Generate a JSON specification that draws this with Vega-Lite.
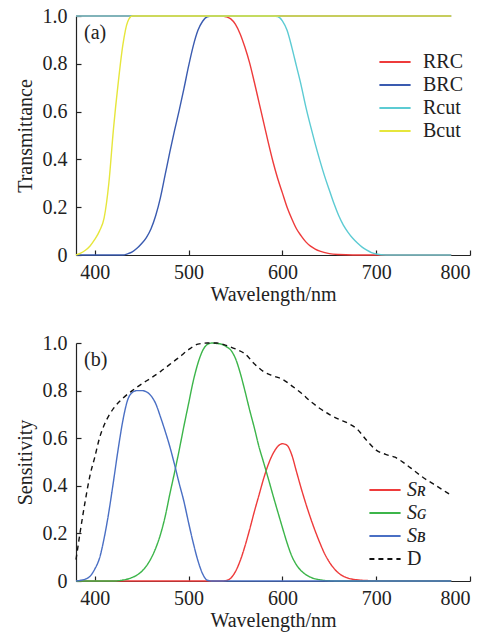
{
  "$schema": "https://vega.github.io/schema/vega-lite/v6.json",
  "padding": {"left": 15, "top": 6, "right": 2, "bottom": 4},
  "spacing": 29,
  "resolve": {"scale": {"color": "independent", "strokeDash": "independent"}, "legend": {"color": "independent", "strokeDash": "independent"}},
  "config": {
    "font": "Liberation Serif",
    "view": {"stroke": null},
    "axis": {
      "grid": false, "domainColor": "#222", "tickColor": "#222", "labelColor": "#222", "titleColor": "#222",
      "labelFont": "Liberation Serif", "titleFont": "Liberation Serif", "labelFontSize": 20, "titleFontSize": 20,
      "titleFontWeight": "normal", "tickSize": -5, "domainWidth": 1.2, "tickWidth": 1.2
    },
    "axisX": {"labelPadding": 12, "titlePadding": 2},
    "axisY": {"labelPadding": 14, "titlePadding": 7},
    "legend": {
      "labelFont": "Liberation Serif", "labelFontSize": 20, "labelColor": "#222",
      "symbolType": "M-1.3,0H1.3", "symbolSize": 576, "symbolStrokeWidth": 2,
      "rowPadding": 0, "padding": 0
    }
  },
  "datasets": {
    "a": [
      {"wl": 380, "v": 1, "s": "RRC"}, {"wl": 535, "v": 1, "s": "RRC"}, {"wl": 540, "v": 0.997, "s": "RRC"},
      {"wl": 545, "v": 0.988, "s": "RRC"}, {"wl": 550, "v": 0.965, "s": "RRC"}, {"wl": 555, "v": 0.925, "s": "RRC"},
      {"wl": 560, "v": 0.87, "s": "RRC"}, {"wl": 565, "v": 0.805, "s": "RRC"}, {"wl": 570, "v": 0.725, "s": "RRC"},
      {"wl": 575, "v": 0.64, "s": "RRC"}, {"wl": 580, "v": 0.555, "s": "RRC"}, {"wl": 585, "v": 0.47, "s": "RRC"},
      {"wl": 590, "v": 0.39, "s": "RRC"}, {"wl": 595, "v": 0.32, "s": "RRC"}, {"wl": 600, "v": 0.26, "s": "RRC"},
      {"wl": 605, "v": 0.2, "s": "RRC"}, {"wl": 610, "v": 0.152, "s": "RRC"}, {"wl": 615, "v": 0.11, "s": "RRC"},
      {"wl": 620, "v": 0.08, "s": "RRC"}, {"wl": 625, "v": 0.055, "s": "RRC"}, {"wl": 630, "v": 0.037, "s": "RRC"},
      {"wl": 635, "v": 0.025, "s": "RRC"}, {"wl": 640, "v": 0.016, "s": "RRC"}, {"wl": 650, "v": 0.006, "s": "RRC"},
      {"wl": 660, "v": 0.002, "s": "RRC"}, {"wl": 675, "v": 0, "s": "RRC"}, {"wl": 780, "v": 0, "s": "RRC"},

      {"wl": 380, "v": 0, "s": "BRC"}, {"wl": 430, "v": 0, "s": "BRC"}, {"wl": 435, "v": 0.005, "s": "BRC"},
      {"wl": 440, "v": 0.013, "s": "BRC"}, {"wl": 445, "v": 0.028, "s": "BRC"}, {"wl": 450, "v": 0.048, "s": "BRC"},
      {"wl": 455, "v": 0.073, "s": "BRC"}, {"wl": 460, "v": 0.11, "s": "BRC"}, {"wl": 465, "v": 0.165, "s": "BRC"},
      {"wl": 470, "v": 0.24, "s": "BRC"}, {"wl": 475, "v": 0.335, "s": "BRC"}, {"wl": 480, "v": 0.43, "s": "BRC"},
      {"wl": 485, "v": 0.52, "s": "BRC"}, {"wl": 490, "v": 0.605, "s": "BRC"}, {"wl": 495, "v": 0.695, "s": "BRC"},
      {"wl": 500, "v": 0.79, "s": "BRC"}, {"wl": 505, "v": 0.875, "s": "BRC"}, {"wl": 510, "v": 0.94, "s": "BRC"},
      {"wl": 515, "v": 0.978, "s": "BRC"}, {"wl": 520, "v": 0.997, "s": "BRC"}, {"wl": 525, "v": 1, "s": "BRC"},
      {"wl": 780, "v": 1, "s": "BRC"},

      {"wl": 380, "v": 1, "s": "Rcut"}, {"wl": 590, "v": 1, "s": "Rcut"}, {"wl": 595, "v": 0.998, "s": "Rcut"},
      {"wl": 600, "v": 0.98, "s": "Rcut"}, {"wl": 605, "v": 0.94, "s": "Rcut"}, {"wl": 610, "v": 0.87, "s": "Rcut"},
      {"wl": 615, "v": 0.79, "s": "Rcut"}, {"wl": 620, "v": 0.71, "s": "Rcut"}, {"wl": 625, "v": 0.62, "s": "Rcut"},
      {"wl": 630, "v": 0.54, "s": "Rcut"}, {"wl": 635, "v": 0.465, "s": "Rcut"}, {"wl": 640, "v": 0.395, "s": "Rcut"},
      {"wl": 645, "v": 0.33, "s": "Rcut"}, {"wl": 650, "v": 0.272, "s": "Rcut"}, {"wl": 655, "v": 0.215, "s": "Rcut"},
      {"wl": 660, "v": 0.165, "s": "Rcut"}, {"wl": 665, "v": 0.125, "s": "Rcut"}, {"wl": 670, "v": 0.095, "s": "Rcut"},
      {"wl": 675, "v": 0.07, "s": "Rcut"}, {"wl": 680, "v": 0.05, "s": "Rcut"}, {"wl": 685, "v": 0.033, "s": "Rcut"},
      {"wl": 690, "v": 0.02, "s": "Rcut"}, {"wl": 695, "v": 0.01, "s": "Rcut"}, {"wl": 700, "v": 0.004, "s": "Rcut"},
      {"wl": 710, "v": 0, "s": "Rcut"}, {"wl": 780, "v": 0, "s": "Rcut"},

      {"wl": 380, "v": 0, "s": "Bcut"}, {"wl": 385, "v": 0.008, "s": "Bcut"}, {"wl": 390, "v": 0.02, "s": "Bcut"},
      {"wl": 395, "v": 0.038, "s": "Bcut"}, {"wl": 400, "v": 0.065, "s": "Bcut"}, {"wl": 405, "v": 0.1, "s": "Bcut"},
      {"wl": 410, "v": 0.155, "s": "Bcut"}, {"wl": 415, "v": 0.3, "s": "Bcut"}, {"wl": 420, "v": 0.53, "s": "Bcut"},
      {"wl": 425, "v": 0.72, "s": "Bcut"}, {"wl": 430, "v": 0.88, "s": "Bcut"}, {"wl": 435, "v": 0.975, "s": "Bcut"},
      {"wl": 440, "v": 1, "s": "Bcut"}, {"wl": 780, "v": 1, "s": "Bcut"}
    ],
    "b": [
      {"wl": 380, "v": 0, "s": "S_R"}, {"wl": 535, "v": 0, "s": "S_R"}, {"wl": 540, "v": 0.002, "s": "S_R"},
      {"wl": 545, "v": 0.012, "s": "S_R"}, {"wl": 550, "v": 0.04, "s": "S_R"}, {"wl": 555, "v": 0.085, "s": "S_R"},
      {"wl": 560, "v": 0.145, "s": "S_R"}, {"wl": 565, "v": 0.215, "s": "S_R"}, {"wl": 570, "v": 0.29, "s": "S_R"},
      {"wl": 575, "v": 0.36, "s": "S_R"}, {"wl": 580, "v": 0.43, "s": "S_R"}, {"wl": 585, "v": 0.49, "s": "S_R"},
      {"wl": 590, "v": 0.535, "s": "S_R"}, {"wl": 595, "v": 0.565, "s": "S_R"}, {"wl": 600, "v": 0.577, "s": "S_R"},
      {"wl": 605, "v": 0.57, "s": "S_R"}, {"wl": 610, "v": 0.53, "s": "S_R"}, {"wl": 615, "v": 0.46, "s": "S_R"},
      {"wl": 620, "v": 0.39, "s": "S_R"}, {"wl": 625, "v": 0.325, "s": "S_R"}, {"wl": 630, "v": 0.265, "s": "S_R"},
      {"wl": 635, "v": 0.21, "s": "S_R"}, {"wl": 640, "v": 0.16, "s": "S_R"}, {"wl": 645, "v": 0.115, "s": "S_R"},
      {"wl": 650, "v": 0.08, "s": "S_R"}, {"wl": 655, "v": 0.053, "s": "S_R"}, {"wl": 660, "v": 0.033, "s": "S_R"},
      {"wl": 665, "v": 0.02, "s": "S_R"}, {"wl": 670, "v": 0.012, "s": "S_R"}, {"wl": 680, "v": 0.005, "s": "S_R"},
      {"wl": 690, "v": 0.002, "s": "S_R"}, {"wl": 700, "v": 0, "s": "S_R"}, {"wl": 780, "v": 0, "s": "S_R"},

      {"wl": 380, "v": 0, "s": "S_G"}, {"wl": 420, "v": 0, "s": "S_G"}, {"wl": 430, "v": 0.004, "s": "S_G"},
      {"wl": 440, "v": 0.015, "s": "S_G"}, {"wl": 445, "v": 0.025, "s": "S_G"}, {"wl": 450, "v": 0.04, "s": "S_G"},
      {"wl": 455, "v": 0.063, "s": "S_G"}, {"wl": 460, "v": 0.095, "s": "S_G"}, {"wl": 465, "v": 0.138, "s": "S_G"},
      {"wl": 470, "v": 0.195, "s": "S_G"}, {"wl": 475, "v": 0.27, "s": "S_G"}, {"wl": 480, "v": 0.365, "s": "S_G"},
      {"wl": 485, "v": 0.455, "s": "S_G"}, {"wl": 490, "v": 0.55, "s": "S_G"}, {"wl": 495, "v": 0.65, "s": "S_G"},
      {"wl": 500, "v": 0.745, "s": "S_G"}, {"wl": 505, "v": 0.84, "s": "S_G"}, {"wl": 510, "v": 0.915, "s": "S_G"},
      {"wl": 515, "v": 0.968, "s": "S_G"}, {"wl": 520, "v": 0.994, "s": "S_G"}, {"wl": 525, "v": 1, "s": "S_G"},
      {"wl": 530, "v": 0.998, "s": "S_G"}, {"wl": 535, "v": 0.995, "s": "S_G"}, {"wl": 540, "v": 0.985, "s": "S_G"},
      {"wl": 545, "v": 0.97, "s": "S_G"}, {"wl": 550, "v": 0.935, "s": "S_G"}, {"wl": 555, "v": 0.875, "s": "S_G"},
      {"wl": 560, "v": 0.8, "s": "S_G"}, {"wl": 565, "v": 0.72, "s": "S_G"}, {"wl": 570, "v": 0.645, "s": "S_G"},
      {"wl": 575, "v": 0.565, "s": "S_G"}, {"wl": 580, "v": 0.498, "s": "S_G"}, {"wl": 585, "v": 0.43, "s": "S_G"},
      {"wl": 590, "v": 0.36, "s": "S_G"}, {"wl": 595, "v": 0.292, "s": "S_G"}, {"wl": 600, "v": 0.225, "s": "S_G"},
      {"wl": 605, "v": 0.16, "s": "S_G"}, {"wl": 610, "v": 0.105, "s": "S_G"}, {"wl": 615, "v": 0.068, "s": "S_G"},
      {"wl": 620, "v": 0.043, "s": "S_G"}, {"wl": 625, "v": 0.027, "s": "S_G"}, {"wl": 630, "v": 0.016, "s": "S_G"},
      {"wl": 640, "v": 0.005, "s": "S_G"}, {"wl": 650, "v": 0.001, "s": "S_G"}, {"wl": 660, "v": 0, "s": "S_G"},
      {"wl": 780, "v": 0, "s": "S_G"},

      {"wl": 380, "v": 0, "s": "S_B"}, {"wl": 385, "v": 0.003, "s": "S_B"}, {"wl": 390, "v": 0.008, "s": "S_B"},
      {"wl": 395, "v": 0.02, "s": "S_B"}, {"wl": 400, "v": 0.05, "s": "S_B"}, {"wl": 405, "v": 0.095, "s": "S_B"},
      {"wl": 410, "v": 0.18, "s": "S_B"}, {"wl": 415, "v": 0.29, "s": "S_B"}, {"wl": 420, "v": 0.42, "s": "S_B"},
      {"wl": 425, "v": 0.555, "s": "S_B"}, {"wl": 430, "v": 0.675, "s": "S_B"}, {"wl": 435, "v": 0.76, "s": "S_B"},
      {"wl": 440, "v": 0.792, "s": "S_B"}, {"wl": 445, "v": 0.8, "s": "S_B"}, {"wl": 450, "v": 0.8, "s": "S_B"},
      {"wl": 455, "v": 0.795, "s": "S_B"}, {"wl": 460, "v": 0.778, "s": "S_B"}, {"wl": 465, "v": 0.745, "s": "S_B"},
      {"wl": 470, "v": 0.69, "s": "S_B"}, {"wl": 475, "v": 0.63, "s": "S_B"}, {"wl": 480, "v": 0.565, "s": "S_B"},
      {"wl": 485, "v": 0.49, "s": "S_B"}, {"wl": 490, "v": 0.41, "s": "S_B"}, {"wl": 495, "v": 0.335, "s": "S_B"},
      {"wl": 500, "v": 0.245, "s": "S_B"}, {"wl": 505, "v": 0.16, "s": "S_B"}, {"wl": 510, "v": 0.085, "s": "S_B"},
      {"wl": 515, "v": 0.03, "s": "S_B"}, {"wl": 520, "v": 0.003, "s": "S_B"}, {"wl": 525, "v": 0, "s": "S_B"},
      {"wl": 780, "v": 0, "s": "S_B"},

      {"wl": 380, "v": 0.09, "s": "D"}, {"wl": 385, "v": 0.22, "s": "D"}, {"wl": 390, "v": 0.34, "s": "D"},
      {"wl": 395, "v": 0.445, "s": "D"}, {"wl": 400, "v": 0.52, "s": "D"}, {"wl": 405, "v": 0.6, "s": "D"},
      {"wl": 410, "v": 0.655, "s": "D"}, {"wl": 415, "v": 0.695, "s": "D"}, {"wl": 420, "v": 0.725, "s": "D"},
      {"wl": 430, "v": 0.768, "s": "D"}, {"wl": 440, "v": 0.8, "s": "D"}, {"wl": 450, "v": 0.828, "s": "D"},
      {"wl": 460, "v": 0.853, "s": "D"}, {"wl": 470, "v": 0.88, "s": "D"}, {"wl": 480, "v": 0.91, "s": "D"},
      {"wl": 490, "v": 0.94, "s": "D"}, {"wl": 500, "v": 0.972, "s": "D"}, {"wl": 510, "v": 0.995, "s": "D"},
      {"wl": 520, "v": 1, "s": "D"}, {"wl": 530, "v": 1, "s": "D"}, {"wl": 540, "v": 0.99, "s": "D"},
      {"wl": 550, "v": 0.975, "s": "D"}, {"wl": 560, "v": 0.955, "s": "D"}, {"wl": 570, "v": 0.913, "s": "D"},
      {"wl": 580, "v": 0.88, "s": "D"}, {"wl": 590, "v": 0.862, "s": "D"}, {"wl": 600, "v": 0.848, "s": "D"},
      {"wl": 610, "v": 0.82, "s": "D"}, {"wl": 620, "v": 0.79, "s": "D"}, {"wl": 630, "v": 0.755, "s": "D"},
      {"wl": 640, "v": 0.725, "s": "D"}, {"wl": 650, "v": 0.7, "s": "D"}, {"wl": 660, "v": 0.68, "s": "D"},
      {"wl": 670, "v": 0.663, "s": "D"}, {"wl": 680, "v": 0.637, "s": "D"}, {"wl": 690, "v": 0.59, "s": "D"},
      {"wl": 700, "v": 0.55, "s": "D"}, {"wl": 710, "v": 0.532, "s": "D"}, {"wl": 720, "v": 0.52, "s": "D"},
      {"wl": 730, "v": 0.495, "s": "D"}, {"wl": 740, "v": 0.465, "s": "D"}, {"wl": 750, "v": 0.435, "s": "D"},
      {"wl": 760, "v": 0.41, "s": "D"}, {"wl": 770, "v": 0.385, "s": "D"}, {"wl": 780, "v": 0.36, "s": "D"}
    ]
  },
  "vconcat": [
    {
      "width": 394,
      "height": 239,
      "layer": [
        {
          "data": {"name": "a"},
          "mark": {"type": "line", "interpolate": "monotone", "strokeWidth": 1.4},
          "encoding": {
            "x": {"field": "wl", "type": "quantitative", "scale": {"domain": [380, 800], "nice": false, "zero": false},
                  "axis": {"values": [400, 500, 600, 700, 800], "title": "Wavelength/nm"}},
            "y": {"field": "v", "type": "quantitative", "scale": {"domain": [0, 1], "nice": false},
                  "axis": {"values": [0, 0.2, 0.4, 0.6, 0.8, 1], "labelExpr": "datum.value == 0 ? '0' : format(datum.value, '.1f')", "title": "Transmittance"}},
            "color": {"field": "s", "type": "nominal",
                      "scale": {"domain": ["RRC", "BRC", "Rcut", "Bcut"], "range": ["#ee3b3b", "#3a5bb0", "#5ccbd3", "#e6e63c"]},
                      "legend": {"title": null, "orient": "none", "legendX": 306, "legendY": 33, "labelOffset": 15}}
          }
        },
        {
          "data": {"values": [{"t": "(a)"}]},
          "mark": {"type": "text", "align": "left", "baseline": "middle", "dx": 8, "fontSize": 20, "font": "Liberation Serif", "color": "#222"},
          "encoding": {"x": {"datum": 380}, "y": {"datum": 0.93}, "text": {"field": "t"}}
        }
      ]
    },
    {
      "width": 394,
      "height": 238,
      "layer": [
        {
          "data": {"name": "b"},
          "mark": {"type": "line", "interpolate": "monotone", "strokeWidth": 1.4},
          "encoding": {
            "x": {"field": "wl", "type": "quantitative", "scale": {"domain": [380, 800], "nice": false, "zero": false},
                  "axis": {"values": [400, 500, 600, 700, 800], "title": "Wavelength/nm"}},
            "y": {"field": "v", "type": "quantitative", "scale": {"domain": [0, 1], "nice": false},
                  "axis": {"values": [0, 0.2, 0.4, 0.6, 0.8, 1], "labelExpr": "datum.value == 0 ? '0' : format(datum.value, '.1f')", "title": "Sensitivity"}},
            "color": {
              "field": "s", "type": "nominal",
              "scale": {"domain": ["S_R", "S_G", "S_B", "D"], "range": ["#ee3b3b", "#3cb54a", "#4a6fc4", "#111111"]},
              "legend": {
                "title": null, "orient": "none", "legendX": 296, "legendY": 134, "labelOffset": 9,
                "labelExpr": "datum.value == 'S_R' ? 'Sʀ' : datum.value == 'S_G' ? 'Sɢ' : datum.value == 'S_B' ? 'Sʙ' : datum.value",
                "encode": {"labels": {"update": {"fontStyle": {"signal": "datum.value == 'D' ? 'normal' : 'italic'"}}}}
              }
            },
            "strokeDash": {
              "field": "s", "type": "nominal",
              "scale": {"domain": ["S_R", "S_G", "S_B", "D"], "range": [[1, 0], [1, 0], [1, 0], [5, 4]]},
              "legend": {
                "title": null, "orient": "none", "legendX": 296, "legendY": 134, "labelOffset": 9,
                "labelExpr": "datum.value == 'S_R' ? 'Sʀ' : datum.value == 'S_G' ? 'Sɢ' : datum.value == 'S_B' ? 'Sʙ' : datum.value",
                "encode": {"labels": {"update": {"fontStyle": {"signal": "datum.value == 'D' ? 'normal' : 'italic'"}}}}
              }
            }
          }
        },
        {
          "data": {"values": [{"t": "(b)"}]},
          "mark": {"type": "text", "align": "left", "baseline": "middle", "dx": 8, "fontSize": 20, "font": "Liberation Serif", "color": "#222"},
          "encoding": {"x": {"datum": 380}, "y": {"datum": 0.93}, "text": {"field": "t"}}
        }
      ]
    }
  ]
}
